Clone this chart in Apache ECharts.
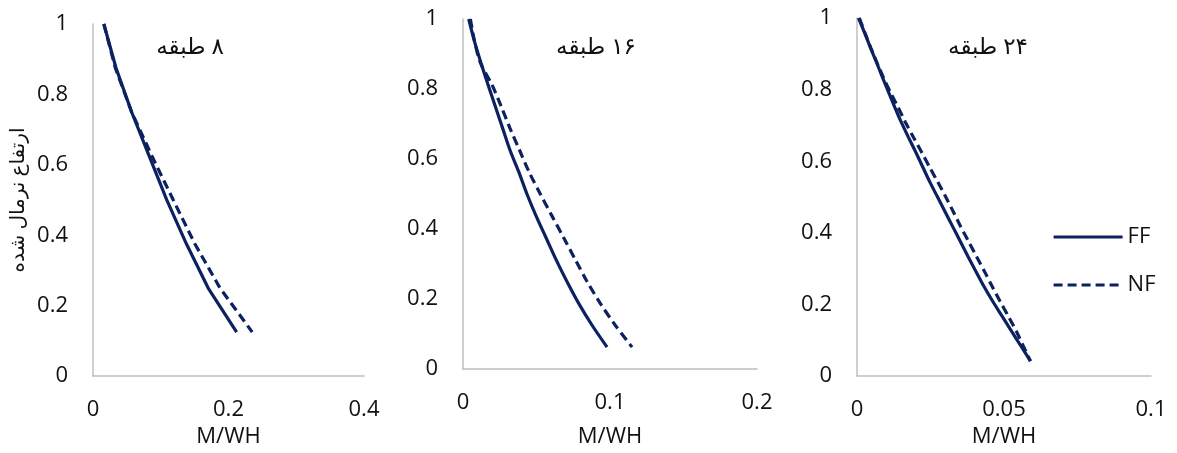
<!DOCTYPE html>
<html>
<head>
<meta charset="utf-8">
<script src="https://cdn.jsdelivr.net/npm/echarts@6/dist/echarts.min.js"></script>
<style>
html,body{margin:0;padding:0;background:#fff;}
#c{width:1177px;height:453px;}
</style>
</head>
<body>
<div id="c"></div>
<script>
// ---- data ----
const seriesNames = ['FF', 'NF'];
const panelTitles = ['۸ طبقه', '۱۶ طبقه', '۲۴ طبقه'];
const xAxisName = 'M/WH';
const yAxisName = 'ارتفاع نرمال شده';

const heights8 = [1, 0.875, 0.75, 0.625, 0.5, 0.375, 0.25, 0.125];
const ff8 = [0.016, 0.034, 0.057, 0.083, 0.109, 0.138, 0.170, 0.212];
const nf8 = [0.016, 0.033, 0.057, 0.087, 0.1185, 0.1505, 0.1875, 0.235];

const heights16 = [1, 0.9375, 0.875, 0.8125, 0.75, 0.6875, 0.625, 0.5625, 0.5, 0.4375, 0.375, 0.3125, 0.25, 0.1875, 0.125, 0.0625];
const ff16 = [0.0039, 0.0077, 0.0122, 0.017, 0.022, 0.027, 0.032, 0.038, 0.0435, 0.0497, 0.0565, 0.0633, 0.0707, 0.0787, 0.0878, 0.098];
const nf16 = [0.005, 0.0078, 0.0118, 0.0197, 0.026, 0.032, 0.0385, 0.045, 0.0526, 0.0605, 0.0685, 0.0764, 0.0844, 0.0934, 0.1036, 0.115];

const heights24 = [1, 0.9583, 0.9167, 0.875, 0.8333, 0.7917, 0.75, 0.7083, 0.6667, 0.625, 0.5833, 0.5417, 0.5, 0.4583, 0.4167, 0.375, 0.3333, 0.2917, 0.25, 0.2083, 0.1667, 0.125, 0.0833, 0.0417];
const ff24 = [0.0005, 0.0026, 0.0046, 0.0067, 0.0087, 0.0108, 0.0129, 0.0151, 0.0175, 0.0200, 0.0224, 0.0248, 0.0274, 0.0300, 0.0326, 0.0352, 0.0378, 0.0405, 0.0432, 0.0462, 0.0494, 0.0526, 0.0558, 0.0590];
const nf24 = [0.0008, 0.0027, 0.0047, 0.0068, 0.0090, 0.0114, 0.0140, 0.0165, 0.0192, 0.0220, 0.0247, 0.0275, 0.0302, 0.0328, 0.0353, 0.0380, 0.0407, 0.0434, 0.0460, 0.0487, 0.0515, 0.0542, 0.0566, 0.0590];

const xMax = [0.4, 0.2, 0.1];
const xInterval = [0.2, 0.1, 0.05];

// ---- chart ----
const lineColor = '#0b2160';
const axisColor = '#bfbfbf';
const textColor = '#111';
const font = '"Open Sans", "DejaVu Sans", sans-serif';

const grids = [
  {left: 93, top: 24, width: 271, height: 362},
  {left: 463, top: 19, width: 294, height: 350},
  {left: 857, top: 18, width: 294, height: 360}
];
const xNameGaps = [41, 57, 48];

const panels = [
  {h: heights8, ff: ff8, nf: nf8},
  {h: heights16, ff: ff16, nf: nf16},
  {h: heights24, ff: ff24, nf: nf24}
];

const xAxes = [], yAxes = [], series = [];
panels.forEach((p, i) => {
  xAxes.push({
    type: 'value', gridIndex: i, min: 0, max: xMax[i], interval: xInterval[i],
    name: xAxisName, nameLocation: 'middle', nameGap: xNameGaps[i],
    nameTextStyle: {fontSize: 22, color: textColor, fontFamily: font},
    axisLine: {show: true, onZero: false, lineStyle: {color: axisColor, width: 1.5}},
    axisTick: {show: false}, splitLine: {show: false},
    axisLabel: {fontSize: 22, color: textColor, fontFamily: font, margin: 23}
  });
  yAxes.push({
    type: 'value', gridIndex: i, min: 0, max: 1, interval: 0.2,
    name: i === 0 ? yAxisName : '', nameLocation: 'middle', nameGap: 65, nameRotate: 90,
    nameTextStyle: {fontSize: 20, color: textColor, fontFamily: font},
    axisLine: {show: true, lineStyle: {color: axisColor, width: 1.5}},
    axisTick: {show: false}, splitLine: {show: false},
    axisLabel: {fontSize: 22, color: textColor, fontFamily: font, margin: 25}
  });
  series.push({
    name: seriesNames[0], type: 'line', xAxisIndex: i, yAxisIndex: i,
    data: p.h.map((y, k) => [p.ff[k], y]), symbol: 'none', smooth: i === 0 ? false : 0.3,
    lineStyle: {color: lineColor, width: 3.2, type: 'solid'}, itemStyle: {color: lineColor}
  });
  series.push({
    name: seriesNames[1], type: 'line', xAxisIndex: i, yAxisIndex: i,
    data: p.h.map((y, k) => [p.nf[k], y]), symbol: 'none', smooth: i === 0 ? false : 0.3,
    lineStyle: {color: lineColor, width: 3.2, type: [9, 5]}, itemStyle: {color: lineColor}
  });
});

const titleCenters = [[190, 47], [596, 47], [988, 47]];
const graphics = panelTitles.map((t, i) => ({
  type: 'text', x: titleCenters[i][0], y: titleCenters[i][1],
  style: {text: '\u200F' + t, fontSize: 23, fill: textColor, fontFamily: font, align: 'center', verticalAlign: 'middle'}
}));

const chart = echarts.init(document.getElementById('c'), null, {renderer: 'canvas'});
chart.setOption({
  animation: false,
  backgroundColor: '#fff',
  grid: grids,
  xAxis: xAxes,
  yAxis: yAxes,
  series: series,
  graphic: graphics,
  legend: {
    data: seriesNames, orient: 'vertical', left: 1052, top: 226, padding: 0,
    itemWidth: 69, itemHeight: 14, itemGap: 26,
    itemStyle: {opacity: 0},
    lineStyle: {width: 3.2},
    textStyle: {fontSize: 22, color: textColor, fontFamily: font}
  }
});
</script>
</body>
</html>
